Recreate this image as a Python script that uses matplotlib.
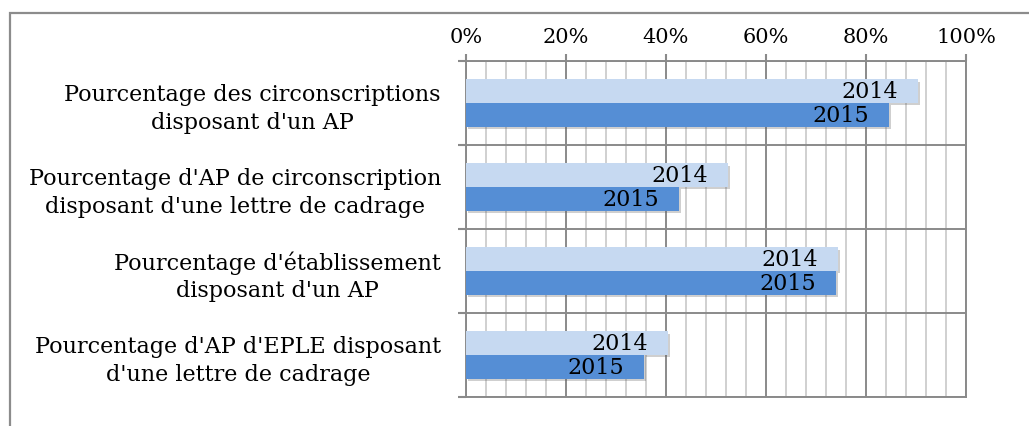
import matplotlib
matplotlib.use('Agg')
import matplotlib.pyplot as plt
import matplotlib.patheffects as pe
from matplotlib.patches import Rectangle
import numpy as np

categories = [
    "Pourcentage des circonscriptions\ndisposant d'un AP",
    "Pourcentage d'AP de circonscription\ndisposant d'une lettre de cadrage",
    "Pourcentage d'établissement\ndisposant d'un AP",
    "Pourcentage d'AP d'EPLE disposant\nd'une lettre de cadrage",
]
years = ['2014', '2015']
values_2014 = [90.3, 52.3, 74.4, 40.3]
values_2015 = [84.5, 42.6, 74.0, 35.5]
x_ticks = [0, 20, 40, 60, 80, 100]

COLOR_2014 = '#c6d9f1'
COLOR_2015 = '#558ed5'
GRID_MAJOR = '#8a8a8a'
GRID_MINOR = '#c4c4c4'

plt.rcParams['font.family'] = 'DejaVu Serif'

W, H = 1029, 427
fig = plt.figure(figsize=(W / 100, H / 100), dpi=100)
ax = fig.add_axes([466 / W, 1 - 398 / H, 500 / W, 336 / H])

# outer frame (only left and top visible in the crop)
fig.patches.append(Rectangle((10 / W, -0.2), 1.2, 1.2 - 14 / H, transform=fig.transFigure,
                             fill=False, edgecolor='#8c8c8c', linewidth=1.6, zorder=0))

centers = np.arange(len(categories)) + 0.5
bh = 0.28
shadow = [pe.SimplePatchShadow(offset=(1.5, -1.5), alpha=0.3, shadow_rgbFace='#606060'), pe.Normal()]

b1 = ax.barh(centers - bh / 2, values_2014, height=bh, color=COLOR_2014, zorder=3)
b2 = ax.barh(centers + bh / 2, values_2015, height=bh, color=COLOR_2015, zorder=3)
for bars in (b1, b2):
    for p in bars:
        p.set_path_effects(shadow)

for bars, yr in ((b1, years[0]), (b2, years[1])):
    for p in bars:
        ax.annotate(yr, (p.get_width(), p.get_y() + p.get_height() / 2),
                    xytext=(-14, 0), textcoords='offset points',
                    ha='right', va='center', fontsize=16, zorder=5)

ax.set_xlim(0, 100)
ax.set_ylim(len(categories), 0)

ax.xaxis.tick_top()
ax.set_xticks(x_ticks)
ax.set_xticklabels([f'{t}%' for t in x_ticks], fontsize=15)
ax.set_xticks(np.arange(0, 101, 4), minor=True)
ax.tick_params(axis='x', which='major', length=5, width=1.5, color=GRID_MAJOR, pad=6)
ax.tick_params(axis='x', which='minor', length=0)

ax.set_yticks(np.arange(len(categories) + 1))
ax.set_yticklabels([''] * (len(categories) + 1))
ax.set_yticks(centers, minor=True)
ax.set_yticklabels(categories, minor=True, fontsize=16)
for lab in ax.get_yticklabels(minor=True):
    lab.set_multialignment('center')
    lab.set_linespacing(1.3)
ax.tick_params(axis='y', which='major', length=6, width=1.5, color=GRID_MAJOR)
ax.tick_params(axis='y', which='minor', length=0, pad=18)

ax.grid(axis='x', which='minor', color=GRID_MINOR, linewidth=1.1, zorder=1)
ax.grid(axis='x', which='major', color=GRID_MAJOR, linewidth=1.4, zorder=1)
for y in range(len(categories) + 1):
    ax.axhline(y, color=GRID_MAJOR, linewidth=1.4, zorder=2)

for s in ax.spines.values():
    s.set_color(GRID_MAJOR)
    s.set_linewidth(1.4)
ax.set_axisbelow(True)

fig.savefig('out.png', dpi=100)
